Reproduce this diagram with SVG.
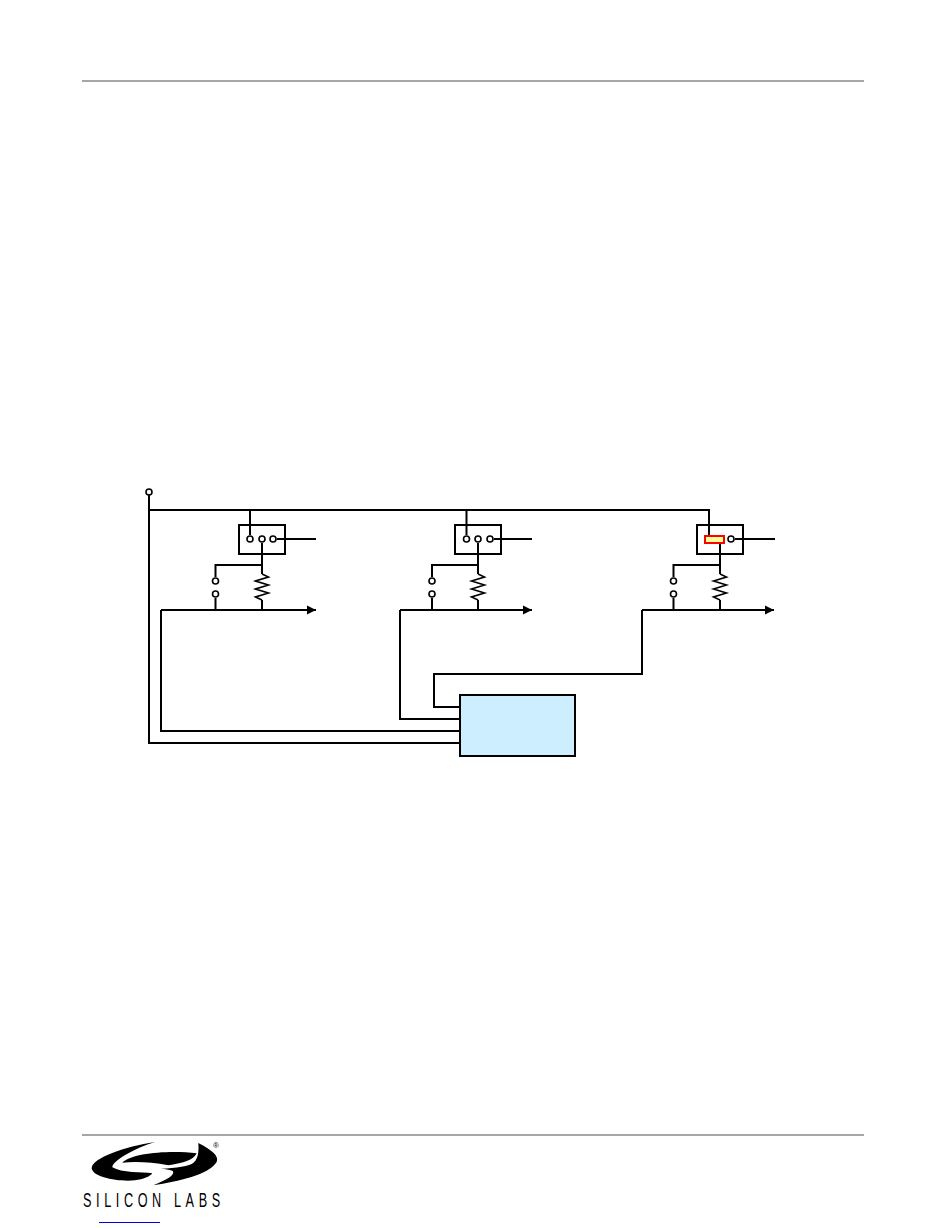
<svg xmlns="http://www.w3.org/2000/svg" width="950" height="1229" viewBox="0 0 950 1229">
<style>
.w{fill:none;stroke:#000;stroke-width:2;stroke-linejoin:miter}
.c{fill:#fff;stroke:#000;stroke-width:1.6}
.b{fill:#fff;stroke:#000;stroke-width:2}
.r{fill:none;stroke:#000;stroke-width:1.6}
.rule{stroke:#a6a6a6;stroke-width:2}
.logo{font-family:"Liberation Sans",Arial,sans-serif;fill:#000}
</style>
<defs>
<marker id="ah" markerUnits="userSpaceOnUse" markerWidth="10" markerHeight="10" refX="9" refY="5" orient="auto"><path d="M0 .5L9 5L0 9.500z" fill="#000"/></marker>
<g id="sw"><path class="w" d="M0 0V9"/><path class="r" d="M0 9L6.500 12L-6.500 16L6.500 20L-6.500 24L6.500 28L-6.500 32L0 35"/><path class="w" d="M0 35V45"/></g>
</defs>
<rect width="950" height="1229" fill="#fff"/>
<line class="rule" x1="82" y1="81" x2="864" y2="81"/>
<line class="rule" x1="82" y1="1135" x2="864" y2="1135"/>
<g id="connectors">
<path class="w" d="M149 495V743H460"/>
<path class="w" d="M149 510H709V536"/>
<path class="w" d="M161 610H316" marker-end="url(#ah)"/>
<path class="w" d="M161 610V731H460"/>
<path class="w" d="M400 610V719H460"/>
<path class="w" d="M400 610H532" marker-end="url(#ah)"/>
<path class="w" d="M642 610H774" marker-end="url(#ah)"/>
<path class="w" d="M642 610V674H434V707H460"/>
</g>
<g id="relay1">
<rect class="b" x="239" y="525" width="46" height="29"/>
<path class="w" d="M250 510V535M277 539H316M262 543V565H215.500V577M215.500 598V610"/>
<circle class="c" cx="250" cy="539" r="3"/><circle class="c" cx="262" cy="539" r="3"/><circle class="c" cx="273" cy="539" r="3"/>
<circle class="c" cx="215.500" cy="581" r="3"/><circle class="c" cx="215.500" cy="594" r="3"/>
<use href="#sw" x="262" y="565"/>
</g>
<g id="relay2">
<rect class="b" x="455" y="525" width="46" height="29"/>
<path class="w" d="M466.500 510V535M494 539H532M478 543V565H432V577M432 598V610"/>
<circle class="c" cx="466.500" cy="539" r="3"/><circle class="c" cx="478" cy="539" r="3"/><circle class="c" cx="490" cy="539" r="3"/>
<circle class="c" cx="432" cy="581" r="3"/><circle class="c" cx="432" cy="594" r="3"/>
<use href="#sw" x="478" y="565"/>
</g>
<g id="relay3">
<rect class="b" x="697" y="525" width="46" height="29"/>
<path class="w" d="M709 510V536M735 539H775M720 543V565H673.500V577M673.500 598V610"/>
<rect x="705" y="536" width="19" height="7" fill="#ffff99" stroke="#f00" stroke-width="2"/>
<circle class="c" cx="731" cy="539" r="3"/>
<circle class="c" cx="673.500" cy="581" r="3"/><circle class="c" cx="673.500" cy="594" r="3"/>
<use href="#sw" x="720" y="565"/>
</g>
<circle class="c" id="supply" cx="149" cy="492" r="3"/>
<g id="controller"><rect x="460" y="695" width="115" height="61" fill="#cceeff" stroke="#000" stroke-width="2"/></g>
<g id="logo">
<g transform="translate(85 1138) scale(.3333)">
<path d="M210 12C120 25 22 60 20 90C22 118 100 132 150 127C175 124 195 116 202 106C170 102 110 105 82 88C82 68 150 30 210 12Z"/>
<path d="M112 74C140 44 260 36 335 46C325 68 290 76 250 82C200 72 150 70 112 74Z"/>
<path d="M340 15C385 38 402 55 395 72C372 110 280 130 205 142C245 126 270 112 264 100C255 92 225 92 195 92C240 94 300 88 320 78C340 68 342 40 340 15Z"/>
</g>
<text class="logo" transform="translate(83 1207) scale(.65 1)" font-size="19.500" textLength="211" lengthAdjust="spacing">SILICON LABS</text>
<text class="logo" x="213" y="1148" font-size="8">®</text>
</g>
<line x1="99" y1="1222.500" x2="160" y2="1222.500" stroke="#0000e0" stroke-width="1"/>
</svg>
